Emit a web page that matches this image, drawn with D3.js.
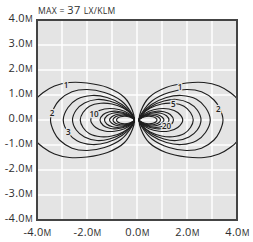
<!DOCTYPE html>
<html><head><meta charset="utf-8">
<script src="https://cdn.jsdelivr.net/npm/d3@7"></script>
<style>
html,body{margin:0;padding:0;background:#fff;}
svg{display:block;font-family:"Open Sans",sans-serif;}
</style></head>
<body><svg id="c" width="253" height="242"></svg>
<script>
// ---- data ----
const titleParts = [["MAX = ", true], ["37 ", false], ["LX/KLM", true]];
const xTickValues = [-4, -2, 0, 2, 4];
const yTickValues = [-4, -3, -2, -1, 0, 1, 2, 3, 4];
const gridValues = [-3, -2, -1, 0, 1, 2, 3];
const unit = "M";
const tipLeftX = -0.1;
const tipRightX = 0.08;
const levels = [1, 2, 3, 4, 5, 10, 15, 20, 25, 30, 35];
// upper-half profiles of each isolux line: [distance from luminaire tip (m), height (m)]
const profile1  = [[0,0],[0.08,0.37],[0.4,0.9],[1.08,1.3],[1.9,1.48],[2.6,1.5],[3.2,1.36],[3.65,1.1],[3.92,0.85],[4.06,0.35],[4.09,0]];
const profile2  = [[0,0],[0.13,0.3],[0.53,0.77],[1.2,1.1],[1.9,1.22],[2.5,1.13],[3.0,0.8],[3.22,0.48],[3.36,0]];
const profile3  = [[0,0],[0.12,0.25],[0.5,0.62],[1.1,0.9],[1.7,0.98],[2.3,0.83],[2.66,0.5],[2.85,0]];
const profile4  = [[0,0],[0.12,0.22],[0.5,0.55],[1.0,0.76],[1.5,0.82],[2.0,0.68],[2.33,0.4],[2.48,0]];
const profile5  = [[0,0],[0.1,0.2],[0.45,0.48],[0.9,0.64],[1.35,0.67],[1.8,0.55],[2.06,0.3],[2.17,0]];
const profile10 = [[0,0],[0.1,0.15],[0.4,0.35],[0.8,0.45],[1.2,0.44],[1.55,0.3],[1.75,0]];
const profile15 = [[0,0],[0.1,0.12],[0.35,0.27],[0.7,0.35],[1.0,0.33],[1.25,0.22],[1.38,0]];
const profile20 = [[0,0],[0.08,0.1],[0.3,0.22],[0.6,0.29],[0.88,0.27],[1.1,0.17],[1.2,0]];
const profile25 = [[0,0],[0.08,0.08],[0.25,0.18],[0.5,0.24],[0.75,0.21],[0.92,0.12],[1.0,0]];
const profile30 = [[0,0],[0.07,0.07],[0.22,0.15],[0.43,0.19],[0.65,0.17],[0.8,0.1],[0.86,0]];
const profile35 = [[0,0],[0.06,0.06],[0.2,0.12],[0.38,0.15],[0.56,0.13],[0.67,0.08],[0.72,0]];
const profiles = [profile1, profile2, profile3, profile4, profile5, profile10, profile15, profile20, profile25, profile30, profile35];
const labelText = ["1", "2", "3", "10", "1", "2", "5", "20"];
const labelX    = [-2.84, -3.4, -2.75, -1.72, 1.72, 3.25, 1.45, 1.18];
const labelY    = [1.42, 0.3, -0.47, 0.27, 1.36, 0.47, 0.67, -0.2];

// ---- chart ----
const svg = d3.select("#c");
const L = 37, R = 237, T = 20, B = 220;
const x = d3.scaleLinear().domain([-4, 4]).range([L, R]);
const y = d3.scaleLinear().domain([-4, 4]).range([B, T]);
const bg = "#e4e4e4";
const FS = 11, SC = 8.6;

svg.append("defs").append("clipPath").attr("id", "clip")
  .append("rect").attr("x", L).attr("y", T).attr("width", R - L).attr("height", B - T);

svg.append("rect").attr("x", L).attr("y", T).attr("width", R - L).attr("height", B - T).attr("fill", bg);

const grid = svg.append("g");
grid.selectAll("line.v").data(gridValues).join("line")
  .attr("x1", d => x(d)).attr("x2", d => x(d)).attr("y1", T).attr("y2", B)
  .attr("stroke", "#fff").attr("stroke-width", 1.5);
grid.selectAll("line.h").data(gridValues).join("line")
  .attr("y1", d => y(d)).attr("y2", d => y(d)).attr("x1", L).attr("x2", R)
  .attr("stroke", "#fff").attr("stroke-width", 1.5);

// contours
const lineGen = d3.line().x(d => x(d[0])).y(d => y(d[1])).curve(d3.curveCatmullRomClosed.alpha(0.5));
function closedPath(prof, tip, dir) {
  const upper = prof.map(p => [tip + dir * p[0], p[1]]);
  const lower = prof.slice(1, prof.length - 1).reverse().map(p => [tip + dir * p[0], -p[1]]);
  return upper.concat(lower);
}
const cg = svg.append("g").attr("clip-path", "url(#clip)");
const fams = [{tip: tipLeftX, dir: -1}, {tip: tipRightX, dir: 1}];
fams.forEach(f => {
  cg.append("g").selectAll("path").data(profiles).join("path")
    .attr("d", p => lineGen(closedPath(p, f.tip, f.dir)))
    .attr("fill", "none").attr("stroke", "#1e1e1e").attr("stroke-width", 1.15);
});

// contour labels
svg.append("g").selectAll("text").data(labelText).join("text")
  .attr("x", (d, i) => x(labelX[i])).attr("y", (d, i) => y(labelY[i]))
  .attr("text-anchor", "middle").attr("dominant-baseline", "central")
  .attr("font-size", 8).attr("font-weight", 600).attr("fill", "#222")
  .attr("stroke", bg).attr("stroke-width", 2.5).attr("paint-order", "stroke")
  .text(d => d);

// frame
svg.append("rect").attr("x", L).attr("y", T).attr("width", R - L).attr("height", B - T)
  .attr("fill", "none").attr("stroke", "#444").attr("stroke-width", 2);

// axes
const num = d => d3.format(".1f")(d).replace("\u2212", "-");
function unitLabels(sel) {
  sel.each(function(d) {
    const t = d3.select(this).text(null).attr("fill", "#2e2e2e").attr("font-size", FS)
      .attr("font-family", "Open Sans").attr("letter-spacing", 0.3);
    t.append("tspan").text(num(d));
    t.append("tspan").attr("font-size", SC).text(unit);
  });
}
const xAxis = svg.append("g").attr("transform", `translate(0,${B})`)
  .call(d3.axisBottom(x).tickValues(xTickValues).tickSize(0).tickPadding(8));
const yAxis = svg.append("g").attr("transform", `translate(${L},0)`)
  .call(d3.axisLeft(y).tickValues(yTickValues).tickSize(0).tickPadding(4));
[xAxis, yAxis].forEach(a => {
  a.select(".domain").remove();
  a.selectAll("text").call(unitLabels);
});
yAxis.selectAll("text").attr("dy", "0.14em");

const tt = svg.append("text").attr("x", L + 1).attr("y", 14)
  .attr("font-size", FS).attr("fill", "#2e2e2e").attr("letter-spacing", 0.3);
tt.selectAll("tspan").data(titleParts).join("tspan")
  .attr("font-size", d => d[1] ? SC : FS).text(d => d[0]);
</script></body></html>
